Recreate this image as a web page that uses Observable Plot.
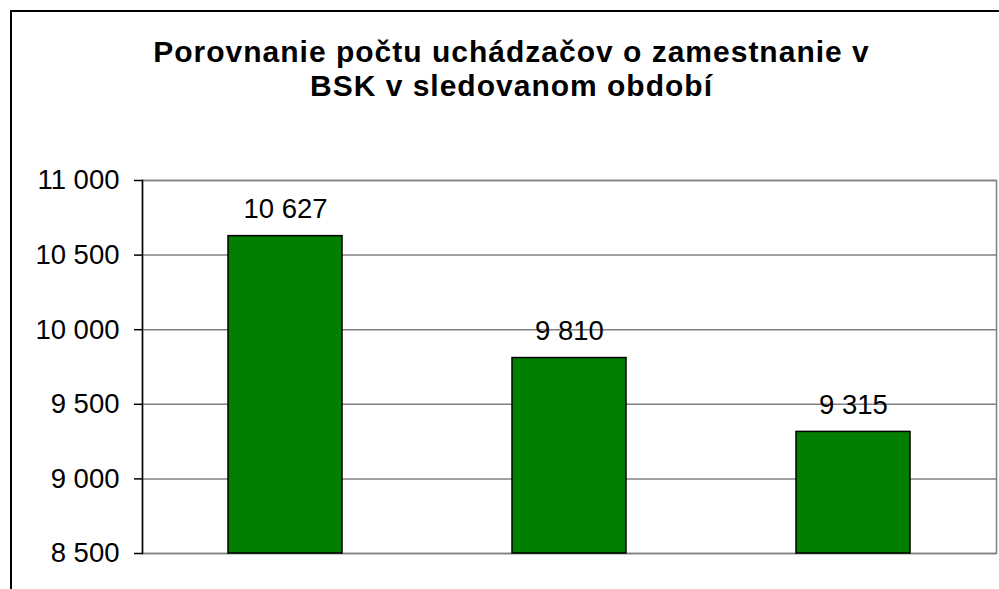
<!DOCTYPE html>
<html>
<head>
<meta charset="utf-8">
<script src="https://cdn.jsdelivr.net/npm/d3@7"></script>
<script src="https://cdn.jsdelivr.net/npm/@observablehq/plot@0.6"></script>
<style>
  html, body { margin: 0; padding: 0; background: #fff; overflow: hidden; width: 999px; height: 589px; }
  #wrap { position: relative; width: 999px; height: 589px; }
  #frame { position: absolute; left: 10px; top: 10px; width: 1100px; height: 700px; border: 2px solid #000; box-sizing: border-box; pointer-events: none; }
  #title { box-sizing: border-box; height: 150px; padding-top: 35px; padding-left: 24px; width: 999px;
           font-family: "Liberation Sans", Arial, sans-serif; font-weight: bold; font-size: 30px; line-height: 34px;
           letter-spacing: 1px; text-align: center; color: #000; }
  #chart svg { display: block; }
</style>
</head>
<body>
<div id="wrap">
  <div id="frame"></div>
  <div id="title">Porovnanie počtu uchádzačov o zamestnanie v<br>BSK v sledovanom období</div>
  <div id="chart"></div>
</div>
<script>
const categories = ["obdobie 1", "obdobie 2", "obdobie 3"];
const values = [10627, 9810, 9315];
const yTicks = [8500, 9000, 9500, 10000, 10500, 11000];
const yMin = 8500, yMax = 11000;

const data = categories.map((c, i) => ({category: c, value: values[i]}));
const fmt = d => d3.format(",")(d).replace(/,/g, " ");
const font = "Liberation Sans, Arial, sans-serif";

const chart = Plot.plot({
  width: 999,
  height: 439,
  marginTop: 30,
  marginBottom: 36,
  marginLeft: 142,
  marginRight: 3,
  style: {fontFamily: font, fontSize: "27.5px", color: "#000", background: "#fff"},
  x: {domain: categories, paddingInner: 0.6, paddingOuter: 0.3, axis: null},
  y: {domain: [yMin, yMax], ticks: yTicks, tickFormat: fmt, tickSize: 8, tickPadding: 15, label: null},
  marks: [
    Plot.ruleY(yTicks, {stroke: "#808080", strokeWidth: 1.5}),
    Plot.frame({stroke: "#808080", strokeWidth: 1.5}),
    Plot.barY(data, {x: "category", y1: yMin, y2: "value", fill: "#007f00", stroke: "#000", strokeWidth: 1.5}),
    Plot.frame({anchor: "left", stroke: "#000", strokeWidth: 1.5}),
    Plot.axisY({ticks: yTicks, tickFormat: fmt, tickSize: 8, tickPadding: 15, stroke: "#000", strokeWidth: 1.5, fontSize: 27.5, label: null}),
    Plot.text(data, {x: "category", y: "value", text: d => fmt(d.value), lineAnchor: "bottom", dy: -18, fontSize: 27.5, fill: "#000"})
  ]
});
document.getElementById("chart").appendChild(chart);
</script>
</body>
</html>
